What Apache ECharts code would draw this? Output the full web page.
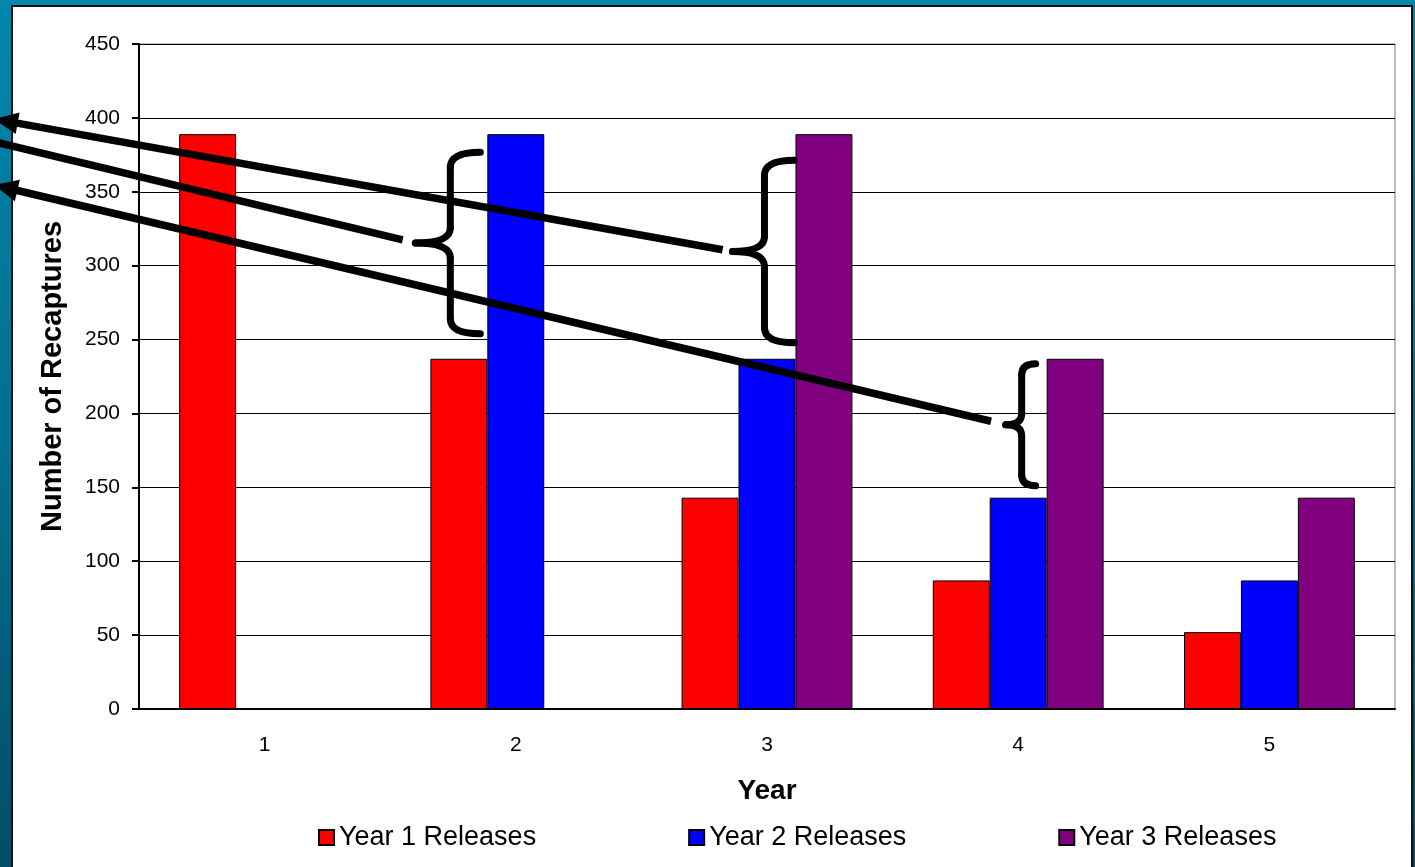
<!DOCTYPE html>
<html>
	<head>
		<meta charset="utf-8" />
		<title></title>
		<style>
			html, body { margin: 0; padding: 0; width: 1415px; height: 867px; overflow: hidden;
				background: linear-gradient(to bottom, #0486ad 0%, #036f90 50%, #034d66 100%); }
			.panel { position: absolute; left: 11px; top: 5px; width: 1398px; height: 880px;
				background: #fff; border: 2px solid #111; }
			#chart { position: absolute; left: 0; top: 0; width: 1415px; height: 867px; }
		</style>
	</head>
	<body>
		<div class="panel"></div>
		<div id="chart"></div>
	</body>
	<script src="https://cdn.jsdelivr.net/npm/echarts@6/dist/echarts.min.js" type="text/javascript" charset="utf-8"></script>
	<script type="text/javascript">
		var years = ["1", "2", "3", "4", "5"];
		var year1 = [389, 237, 143, 87, 52];
		var year2 = [null, 389, 237, 143, 87];
		var year3 = [null, null, 389, 237, 143];
		var yTicks = [0, 450, 50]; // min, max, interval

		// braces drawn next to a bar: cat index, series index, top/bottom values, pixel tweaks
		var braces = [
			{cat: 1, ser: 1, hi: 389, lo: 237, dTop: 18, dBot: -25, xr: -7, xs: -37, xt: -72, r: 15},
			{cat: 2, ser: 2, hi: 389, lo: 237, dTop: 26, dBot: -16, xr: -1, xs: -31, xt: -63, r: 15},
			{cat: 3, ser: 2, hi: 237, lo: 143, dTop: 5, dBot: -12, xr: -11, xs: -25, xt: -41, r: 11}
		];
		// arrows from a brace tip out to the left edge
		var arrows = [
			{brace: 1, x: -6, y: 119, gap: 10, head: true},
			{brace: 0, x: -30, y: 136, gap: 13, head: true},
			{brace: 2, x: -6, y: 185, gap: 15, head: true}
		];

		var font = "Liberation Sans, Arial, sans-serif";
		var myChart = echarts.init(document.getElementById('chart'));
		var option = {
			animation: false,
			backgroundColor: 'transparent',
			textStyle: {fontFamily: font, color: '#000'},
			grid: {left: 139, right: 20, top: 44, bottom: 158, show: true, borderColor: '#808080', borderWidth: 1},
			legend: {
				left: 313, top: 819, itemGap: 152, itemWidth: 15, itemHeight: 15, icon: 'rect',
				textStyle: {fontSize: 27, fontFamily: font, color: '#000'}
			},
			xAxis: {
				type: 'category',
				data: years,
				name: 'Year',
				nameLocation: 'middle',
				nameGap: 68,
				nameTextStyle: {fontSize: 28, fontWeight: 'bold', fontFamily: font, color: '#000'},
				axisLine: {lineStyle: {color: '#000', width: 2}},
				axisTick: {length: 6, lineStyle: {color: '#000', width: 2}},
				axisLabel: {fontSize: 21, margin: 26, color: '#000', fontFamily: font}
			},
			yAxis: {
				type: 'value',
				min: yTicks[0], max: yTicks[1], interval: yTicks[2],
				name: 'Number of Recaptures',
				nameLocation: 'middle',
				nameGap: 72,
				nameTextStyle: {fontSize: 29, fontWeight: 'bold', fontFamily: font, color: '#000'},
				axisLine: {show: true, lineStyle: {color: '#000', width: 2}},
				axisTick: {show: true, length: 7, lineStyle: {color: '#000', width: 2}},
				axisLabel: {fontSize: 21, margin: 19, color: '#000', fontFamily: font},
				splitLine: {lineStyle: {color: '#000', width: 1}}
			},
			series: [
				{name: 'Year 1 Releases', type: 'bar', data: year1, barCategoryGap: '32%', barGap: '0%',
					itemStyle: {color: '#ff0000', borderColor: '#000', borderWidth: 1}},
				{name: 'Year 2 Releases', type: 'bar', data: year2, barCategoryGap: '32%', barGap: '0%',
					itemStyle: {color: '#0000ff', borderColor: '#000', borderWidth: 1}},
				{name: 'Year 3 Releases', type: 'bar', data: year3, barCategoryGap: '32%', barGap: '0%',
					itemStyle: {color: '#800080', borderColor: '#000', borderWidth: 1}}
			]
		};
		myChart.setOption(option);

		// annotations placed from the bar layout
		var graphics = [];
		var tips = [];
		var ink = {stroke: '#000', lineWidth: 7, lineCap: 'round', fill: null};
		function curve(x1, y1, cx, cy, x2, y2) {
			graphics.push({type: 'bezierCurve', z: 100,
				shape: {x1: x1, y1: y1, cpx1: cx, cpy1: cy, x2: x2, y2: y2}, style: ink});
		}
		function seg(x1, y1, x2, y2) {
			graphics.push({type: 'line', z: 100,
				shape: {x1: x1, y1: y1, x2: x2, y2: y2}, style: ink});
		}
		for (var i = 0; i < braces.length; i++) {
			var b = braces[i];
			var lay = myChart.getModel().getSeriesByIndex(b.ser).getData().getItemLayout(b.cat);
			var bx = lay.x;
			var yt = myChart.convertToPixel({yAxisIndex: 0}, b.hi) + b.dTop;
			var yb = myChart.convertToPixel({yAxisIndex: 0}, b.lo) + b.dBot;
			var ym = (yt + yb) / 2;
			var xr = bx + b.xr, xs = bx + b.xs, xt = bx + b.xt, r = b.r;
			curve(xr, yt, xs, yt, xs, yt + r);
			seg(xs, yt + r, xs, ym - r);
			curve(xs, ym - r, xs, ym, xt, ym);
			curve(xt, ym, xs, ym, xs, ym + r);
			seg(xs, ym + r, xs, yb - r);
			curve(xs, yb - r, xs, yb, xr, yb);
			tips.push([xt, ym]);
		}
		for (var j = 0; j < arrows.length; j++) {
			var a = arrows[j];
			var t = tips[a.brace];
			var dx = t[0] - a.x, dy = t[1] - a.y;
			var len = Math.sqrt(dx * dx + dy * dy);
			var ux = dx / len, uy = dy / len;
			var ex = t[0] - ux * a.gap, ey = t[1] - uy * a.gap;
			graphics.push({
				type: 'line', z: 100,
				shape: {x1: a.x + ux * 12, y1: a.y + uy * 12, x2: ex, y2: ey},
				style: {stroke: '#000', lineWidth: 7.5}
			});
			if (a.head) {
				var L = 24, W = 11;
				graphics.push({
					type: 'polygon', z: 100,
					shape: {points: [
						[a.x, a.y],
						[a.x + ux * L - uy * W, a.y + uy * L + ux * W],
						[a.x + ux * L + uy * W, a.y + uy * L - ux * W]
					]},
					style: {fill: '#000'}
				});
			}
		}
		myChart.setOption({graphic: graphics});
	</script>
</html>
